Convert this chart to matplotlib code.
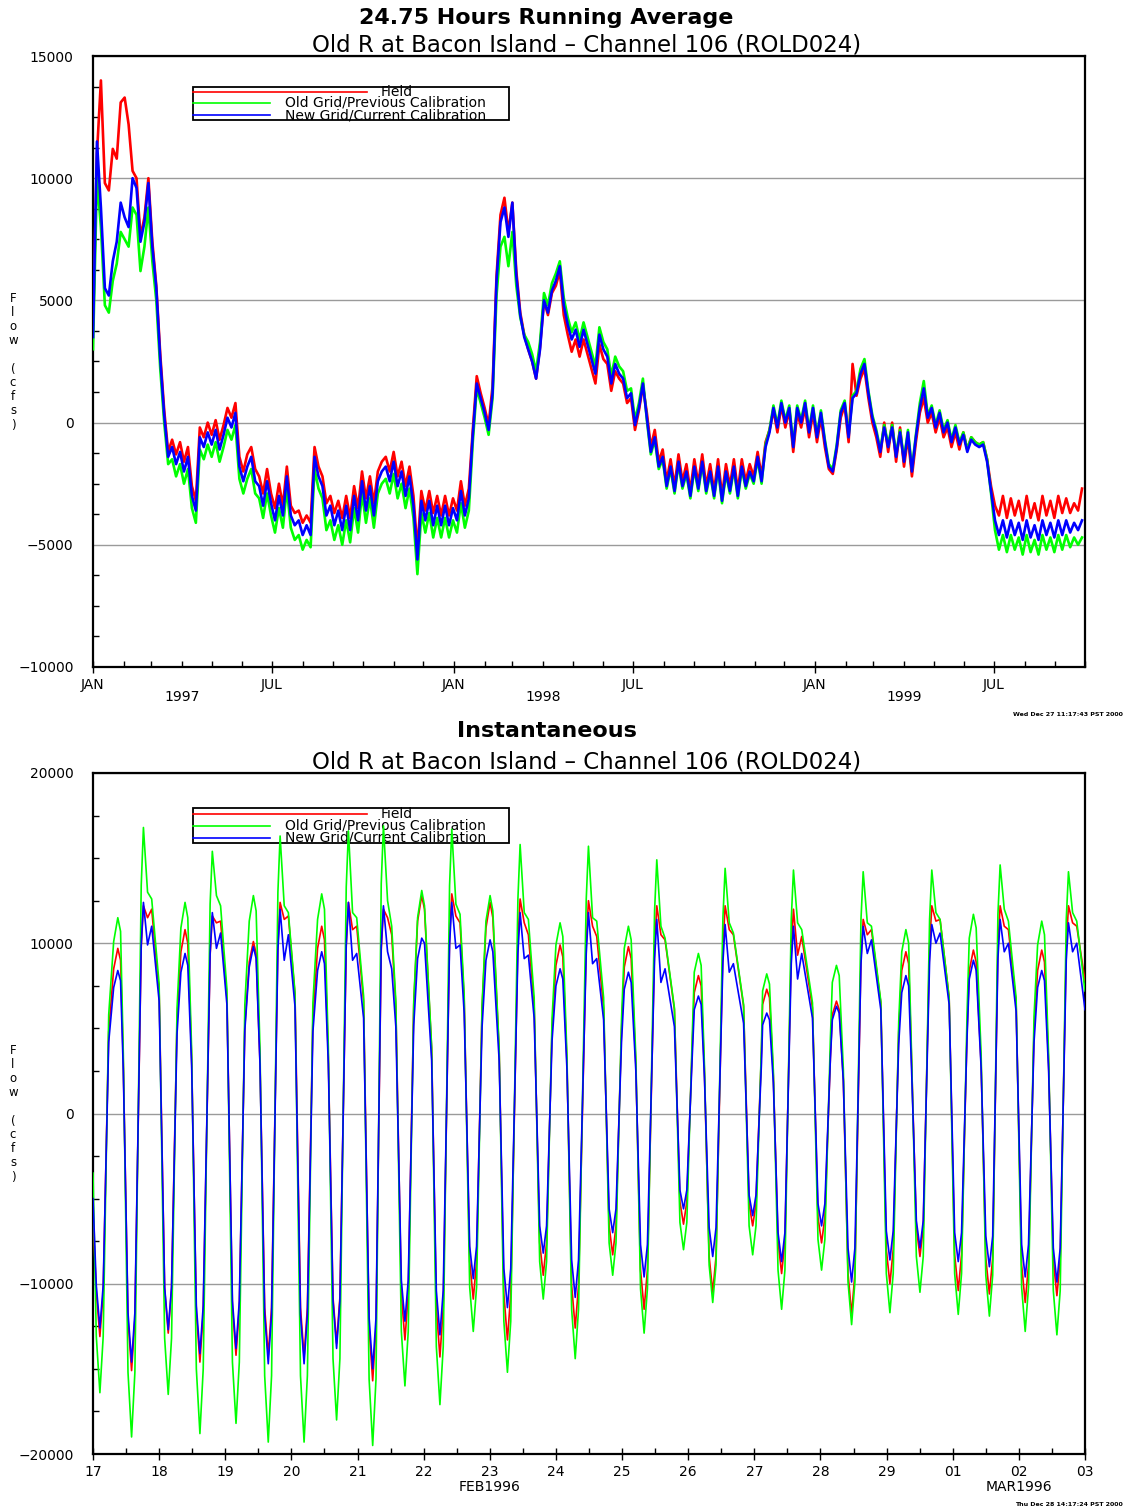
import numpy as np
import pandas as pd
import matplotlib
matplotlib.use("Agg")
import matplotlib.pyplot as plt
import matplotlib.dates as mdates
from matplotlib.ticker import MultipleLocator, FuncFormatter
from matplotlib.patches import Rectangle
from matplotlib.lines import Line2D
from matplotlib.transforms import blended_transform_factory

plt.rcParams["font.family"] = ["DejaVu Sans"]

# ---- 24.75 h running average: one value every 4 days from 1 Jan 1997, in 100 cfs ----
avg_start = "1997-01-01"
avg_step = "4D"
avg_field = [40, 110, 140, 98, 95, 112, 108, 131, 133, 122,
             103, 100, 76, 84, 100, 74, 56, 28, 5, -12,
             -7, -13, -8, -16, -10, -26, -32, -2, -6, 0,
             -5, 1, -7, -1, 6, 2, 8, -14, -20, -13,
             -10, -19, -22, -29, -19, -29, -35, -25, -34, -18,
             -34, -37, -36, -41, -38, -41, -10, -18, -22, -33,
             -30, -37, -32, -39, -30, -39, -26, -35, -20, -31,
             -22, -33, -20, -16, -14, -20, -12, -22, -16, -26,
             -18, -30, -52, -28, -36, -28, -37, -30, -38, -30,
             -38, -31, -36, -24, -34, -27, -3, 19, 12, 6,
             -1, 15, 60, 85, 92, 78, 90, 62, 45, 36,
             30, 25, 18, 31, 50, 44, 53, 56, 62, 44,
             36, 29, 34, 27, 34, 28, 22, 16, 32, 26,
             24, 13, 21, 18, 16, 8, 10, -3, 5, 15,
             4, -10, -3, -16, -11, -24, -15, -26, -13, -24,
             -17, -28, -15, -25, -13, -26, -17, -28, -15, -30,
             -17, -26, -15, -28, -15, -24, -17, -22, -12, -22,
             -8, -3, 5, -4, 7, -2, 5, -12, 4, -2,
             6, -6, 4, -8, 2, -10, -19, -21, -11, 2,
             7, -8, 24, 11, 18, 22, 10, 0, -6, -14,
             0, -12, 0, -16, -2, -18, -6, -22, -8, 4,
             10, 0, 4, -4, 2, -6, -2, -10, -4, -11,
             -4, -11, -6, -8, -9, -8, -15, -26, -34, -38,
             -30, -39, -31, -38, -32, -40, -30, -39, -33, -40,
             -30, -38, -32, -39, -30, -37, -31, -37, -33, -36, -27]
avg_old = [30, 100, 80, 48, 45, 58, 65, 78, 75, 72,
           88, 85, 62, 72, 88, 66, 50, 22, 0, -17,
           -15, -22, -17, -25, -19, -35, -41, -11, -15, -9,
           -14, -8, -16, -10, -3, -7, -1, -23, -29, -23,
           -19, -29, -31, -39, -29, -38, -45, -35, -43, -27,
           -43, -48, -46, -52, -48, -51, -19, -27, -31, -44,
           -40, -48, -42, -50, -40, -49, -35, -45, -29, -41,
           -31, -43, -29, -25, -23, -29, -21, -31, -25, -35,
           -27, -39, -62, -37, -45, -37, -47, -39, -47, -39,
           -47, -40, -45, -33, -43, -36, -8, 14, 8, 2,
           -5, 10, 52, 72, 76, 64, 78, 56, 43, 36,
           33, 28, 21, 33, 53, 48, 57, 61, 66, 51,
           43, 37, 41, 34, 41, 35, 29, 23, 39, 33,
           30, 19, 27, 23, 21, 13, 14, 1, 8, 18,
           1, -13, -7, -19, -15, -27, -19, -29, -17, -27,
           -21, -31, -19, -28, -17, -29, -21, -31, -19, -33,
           -21, -29, -19, -31, -19, -27, -21, -25, -15, -25,
           -9, -3, 7, -1, 9, 1, 7, -9, 7, 1,
           9, -3, 7, -5, 5, -7, -17, -19, -9, 5,
           9, -5, 11, 13, 22, 26, 13, 3, -3, -11,
           -1, -9, -1, -13, -3, -15, -3, -19, -5, 8,
           17, 3, 7, -1, 5, -3, 1, -7, -1, -8,
           -4, -11, -6, -8, -9, -8, -15, -29, -44, -52,
           -46, -53, -46, -52, -47, -54, -46, -53, -48, -54,
           -46, -52, -47, -53, -46, -52, -46, -51, -47, -50, -47]
avg_new = [35, 115, 88, 55, 52, 66, 74, 90, 84, 80,
           100, 96, 74, 82, 98, 72, 55, 26, 3, -14,
           -10, -17, -12, -20, -14, -30, -36, -6, -10, -4,
           -9, -3, -11, -5, 2, -2, 4, -18, -24, -18,
           -14, -24, -26, -34, -24, -33, -40, -30, -38, -22,
           -38, -42, -40, -46, -42, -46, -14, -22, -26, -38,
           -34, -42, -36, -44, -34, -44, -30, -40, -24, -36,
           -26, -38, -24, -20, -18, -24, -16, -26, -20, -30,
           -22, -34, -56, -32, -40, -32, -42, -34, -42, -34,
           -42, -35, -40, -28, -38, -31, -5, 16, 10, 4,
           -3, 12, 58, 82, 88, 76, 90, 60, 44, 35,
           30, 25, 18, 30, 50, 45, 54, 58, 64, 48,
           40, 34, 38, 31, 38, 32, 26, 20, 36, 30,
           27, 16, 24, 20, 18, 10, 12, -1, 6, 16,
           2, -12, -6, -18, -14, -26, -18, -28, -16, -26,
           -20, -30, -18, -27, -16, -28, -20, -30, -18, -32,
           -20, -28, -18, -30, -18, -26, -20, -24, -14, -24,
           -10, -4, 6, -2, 8, 0, 6, -10, 6, 0,
           8, -4, 6, -6, 4, -8, -18, -20, -10, 4,
           8, -6, 10, 12, 20, 24, 12, 2, -4, -12,
           -2, -10, -2, -14, -4, -16, -4, -20, -6, 6,
           14, 2, 6, -2, 4, -4, 0, -8, -2, -9,
           -5, -12, -7, -9, -10, -9, -16, -28, -40, -46,
           -40, -47, -40, -46, -41, -48, -40, -47, -42, -48,
           -40, -46, -41, -47, -40, -46, -40, -45, -41, -44, -40]

# ---- instantaneous: hours after 17 Feb 1996 00:00, in 100 cfs ----
inst_hours = [0.0, 1.2,
              2.5, 3.7, 5.7, 7.5, 9.0, 10.0, 11.0, 12.7,
              14.0, 15.2, 17.5, 18.3, 19.8, 21.3, 24.0, 26.0,
              27.3, 28.5, 30.5, 31.9, 33.4, 34.4, 35.8, 37.5,
              38.8, 40.0, 42.5, 43.3, 44.8, 46.3, 48.6, 50.6,
              51.9, 53.1, 55.1, 56.7, 58.2, 59.2, 60.6, 62.3,
              63.6, 64.8, 67.1, 67.9, 69.4, 70.9, 73.3, 75.3,
              76.6, 77.8, 79.8, 81.5, 83.0, 84.0, 85.4, 87.1,
              88.4, 89.6, 91.9, 92.7, 94.2, 95.7, 98.2, 100.2,
              101.5, 102.7, 104.6, 105.4, 106.9, 108.4, 109.9, 111.9,
              113.2, 114.4, 116.4, 117.8, 119.3, 120.3, 122.9, 124.6,
              125.9, 127.1, 129.4, 130.2, 131.7, 133.2, 134.7, 136.7,
              138.0, 139.2, 141.2, 142.6, 144.1, 145.1, 147.4, 149.1,
              150.4, 151.6, 154.2, 155.0, 156.5, 158.0, 160.1, 162.1,
              163.4, 164.6, 166.6, 168.0, 169.5, 170.5, 172.0, 173.7,
              175.0, 176.2, 179.0, 179.8, 181.3, 182.8, 185.3, 187.3,
              188.6, 189.8, 191.8, 192.8, 194.3, 195.3, 197.0, 198.7,
              200.0, 201.2, 203.8, 204.6, 206.1, 207.6, 211.0, 213.0,
              214.3, 215.5, 217.5, 218.2, 219.7, 220.7, 221.9, 223.6,
              224.9, 226.1, 228.6, 229.4, 230.9, 232.4, 236.1, 238.1,
              239.4, 240.6, 242.6, 243.0, 244.5, 245.5, 246.9, 248.6,
              249.9, 251.1, 253.4, 254.2, 255.7, 257.2, 261.1, 263.1,
              264.4, 265.6, 267.6, 268.3, 269.8, 270.8, 272.3, 274.0,
              275.3, 276.5, 278.7, 279.5, 281.0, 282.5, 285.9, 287.9,
              289.2, 290.4, 292.4, 293.5, 295.0, 296.0, 297.1, 298.8,
              300.1, 301.3, 303.6, 304.4, 305.9, 307.4, 310.7, 312.7,
              314.0, 315.2, 317.2, 318.0, 319.5, 320.5, 322.3, 324.0,
              325.3, 326.5, 328.4, 329.2, 330.7, 332.2, 335.0, 337.0,
              338.3, 339.5, 341.5, 342.8, 344.3, 345.3, 346.8, 348.5,
              349.8, 351.0, 353.2, 354.0, 355.5, 357.0, 360.0]
inst_field = [-60, -105,
              -131, -105, 48, 85, 97, 90, 29, -121,
              -151, -121, 98, 122, 115, 120, 72, -103,
              -129, -103, 54, 95, 108, 100, 32, -117,
              -146, -117, 93, 116, 112, 113, 68, -114,
              -142, -114, 51, 89, 101, 94, 30, -114,
              -142, -114, 99, 124, 114, 116, 70, -114,
              -143, -114, 55, 97, 110, 102, 33, -108,
              -135, -108, 99, 124, 108, 110, 66, -126,
              -157, -126, 96, 120, 115, 105, 63, -106,
              -133, -106, 64, 113, 128, 120, 38, -114,
              -143, -114, 103, 129, 116, 112, 67, -87,
              -109, -87, 62, 109, 124, 115, 37, -106,
              -133, -106, 101, 126, 112, 105, 63, -76,
              -95, -76, 50, 87, 99, 92, 30, -101,
              -126, -101, 100, 125, 110, 104, 62, -66,
              -83, -66, 49, 86, 98, 91, 29, -92,
              -115, -92, 98, 122, 105, 102, 61, -52,
              -65, -52, 41, 71, 81, 75, 24, -84,
              -105, -84, 98, 122, 108, 105, 63, -53,
              -66, -53, 37, 64, 73, 68, 22, -75,
              -94, -75, 96, 120, 93, 104, 62, -61,
              -76, -61, 33, 58, 66, 61, 20, -94,
              -118, -94, 91, 114, 105, 108, 65, -80,
              -100, -80, 48, 84, 95, 88, 29, -67,
              -84, -67, 98, 122, 113, 114, 68, -83,
              -104, -83, 48, 84, 96, 89, 29, -85,
              -106, -85, 98, 122, 110, 108, 65, -89,
              -111, -89, 48, 84, 96, 89, 29, -86,
              -107, -86, 98, 122, 112, 110, 78]
inst_old = [-35, -131,
            -164, -131, 58, 101, 115, 107, 35, -152,
            -190, -152, 134, 168, 130, 126, 76, -132,
            -165, -132, 62, 109, 124, 115, 37, -150,
            -188, -150, 123, 154, 128, 122, 73, -146,
            -182, -146, 64, 113, 128, 119, 38, -154,
            -193, -154, 130, 163, 122, 118, 71, -154,
            -193, -154, 65, 114, 129, 120, 39, -144,
            -180, -144, 133, 166, 118, 115, 69, -156,
            -195, -156, 135, 169, 125, 110, 66, -128,
            -160, -128, 66, 115, 131, 122, 39, -137,
            -171, -137, 134, 167, 123, 117, 70, -102,
            -128, -102, 64, 113, 128, 119, 38, -122,
            -152, -122, 126, 158, 118, 114, 68, -87,
            -109, -87, 56, 99, 112, 104, 34, -115,
            -144, -115, 126, 157, 115, 113, 68, -76,
            -95, -76, 55, 97, 110, 102, 33, -103,
            -129, -103, 119, 149, 110, 103, 62, -64,
            -80, -64, 47, 83, 94, 87, 28, -89,
            -111, -89, 115, 144, 112, 106, 64, -66,
            -83, -66, 41, 72, 82, 76, 25, -92,
            -115, -92, 114, 143, 112, 108, 65, -74,
            -92, -74, 44, 77, 87, 81, 26, -99,
            -124, -99, 114, 142, 112, 110, 66, -94,
            -117, -94, 54, 95, 108, 100, 32, -84,
            -105, -84, 114, 143, 118, 114, 68, -94,
            -118, -94, 59, 103, 117, 109, 35, -95,
            -119, -95, 117, 146, 120, 113, 68, -102,
            -128, -102, 57, 99, 113, 105, 34, -104,
            -130, -104, 114, 142, 118, 113, 72]
inst_new = [-50, -101,
            -126, -101, 42, 74, 84, 78, 25, -117,
            -146, -117, 99, 124, 99, 110, 66, -102,
            -127, -102, 47, 83, 94, 87, 28, -113,
            -141, -113, 94, 118, 97, 106, 64, -110,
            -138, -110, 49, 86, 98, 91, 29, -118,
            -147, -118, 96, 120, 90, 105, 63, -118,
            -147, -118, 48, 84, 95, 88, 29, -110,
            -138, -110, 99, 124, 90, 94, 56, -120,
            -150, -120, 98, 122, 95, 85, 51, -98,
            -122, -98, 52, 91, 103, 100, 31, -104,
            -130, -104, 99, 124, 97, 99, 59, -78,
            -97, -78, 51, 90, 102, 95, 31, -91,
            -114, -91, 94, 118, 91, 93, 56, -66,
            -82, -66, 43, 75, 85, 79, 26, -86,
            -108, -86, 94, 118, 88, 91, 55, -56,
            -70, -56, 42, 73, 83, 77, 25, -77,
            -96, -77, 91, 114, 77, 85, 51, -45,
            -56, -45, 35, 61, 69, 64, 21, -67,
            -84, -67, 89, 111, 83, 88, 53, -48,
            -60, -48, 30, 52, 59, 55, 18, -70,
            -87, -70, 88, 110, 79, 94, 56, -53,
            -66, -53, 32, 55, 63, 59, 19, -79,
            -99, -79, 88, 110, 94, 102, 61, -69,
            -86, -69, 41, 71, 81, 75, 24, -63,
            -79, -63, 89, 111, 100, 106, 64, -70,
            -87, -70, 45, 79, 90, 84, 27, -72,
            -90, -72, 91, 114, 95, 100, 60, -77,
            -96, -77, 42, 74, 84, 78, 25, -79,
            -99, -79, 90, 112, 95, 100, 61]

series_names = ["Field", "Old Grid/Previous Calibration", "New Grid/Current Calibration"]
series_colors = ["#ff0000", "#00ff00", "#0000ff"]
subtitle = "Old R at Bacon Island \u2013 Channel 106 (ROLD024)"

assert len(avg_field) == len(avg_old) == len(avg_new)
assert len(inst_hours) == len(inst_field) == len(inst_old) == len(inst_new)

avg_t = pd.date_range(avg_start, periods=len(avg_new), freq=avg_step)
inst_t = pd.Timestamp("1996-02-17") + pd.to_timedelta(inst_hours, unit="h")

W, H = 1125, 1510
fig = plt.figure(figsize=(W / 100, H / 100), dpi=100)

def px_axes(l, t, r, b):
    return fig.add_axes([l / W, 1 - b / H, (r - l) / W, (b - t) / H])

def frame(ax, lo, hi, major, minor):
    ax.set_ylim(lo, hi)
    ax.yaxis.set_major_locator(MultipleLocator(major))
    ax.yaxis.set_minor_locator(MultipleLocator(minor))
    ax.grid(axis="y", which="major", color="#9a9a9a", lw=1.0)
    ax.set_axisbelow(True)
    ax.tick_params(axis="y", which="both", direction="in", labelsize=10, pad=14)
    ax.tick_params(axis="y", which="major", length=0)
    ax.tick_params(axis="y", which="minor", length=4, width=1)
    ax.tick_params(axis="x", which="major", direction="inout", length=8, width=1, labelsize=10, pad=4)
    ax.tick_params(axis="x", which="minor", direction="in", length=4, width=1)
    for s in ax.spines.values():
        s.set_linewidth(1.6)

def legend_box(ax, y0, y1, ys):
    ax.add_patch(Rectangle((0.1008, y0), 0.3186, y1 - y0, transform=ax.transAxes,
                           fill=False, ec="black", lw=1.3, zorder=1))
    ends = [0.2762, 0.1784, 0.1784]
    for name, col, y, xe in zip(series_names, series_colors, ys, ends):
        ax.add_line(Line2D([0.1008, xe], [y, y], transform=ax.transAxes, color=col, lw=1.2, zorder=1))
    ax.text(0.3065, ys[0], series_names[0], transform=ax.transAxes, ha="center", va="center", fontsize=10, zorder=1)
    for name, y in zip(series_names[1:], ys[1:]):
        ax.text(0.1935, y, name, transform=ax.transAxes, ha="left", va="center", fontsize=10, zorder=1)

def flow_label(ycenter):
    fig.text(13 / W, 1 - ycenter / H, "F\nl\no\nw\n\n(\nc\nf\ns\n)", ha="center", va="center",
             fontsize=8.5, linespacing=1.1)

# ---------------- top panel ----------------
ax1 = px_axes(93, 56, 1085, 667)
for vals, col in zip([avg_field, avg_old, avg_new], series_colors):
    ax1.plot(avg_t, np.array(vals) * 100, color=col, lw=1.9, zorder=3)
ax1.set_xlim(pd.Timestamp("1997-01-01"), pd.Timestamp("1999-10-01"))
frame(ax1, -10000, 15000, 5000, 1250)
ax1.xaxis.set_major_locator(mdates.MonthLocator(bymonth=[1, 7]))
ax1.xaxis.set_minor_locator(mdates.MonthLocator())
ax1.xaxis.set_major_formatter(FuncFormatter(lambda x, p: mdates.num2date(x).strftime("%b").upper()))
tr1 = blended_transform_factory(ax1.transData, ax1.transAxes)
for yr in ["1997", "1998", "1999"]:
    ax1.text(pd.Timestamp(yr + "-04-01"), -0.049, yr, transform=tr1, ha="center", va="center", fontsize=10)
legend_box(ax1, 0.8953, 0.9493, [0.9411, 0.9231, 0.9034])

fig.text(0.4858, 1 - 18 / H, "24.75 Hours Running Average", ha="center", va="center", fontsize=16, weight="bold")
fig.text(0.5218, 1 - 45 / H, subtitle, ha="center", va="center", fontsize=16.5)
flow_label(362)
fig.text(0.998, 1 - 715 / H, "Wed Dec 27 11:17:43 PST 2000", ha="right", va="center", fontsize=4.5, weight="bold")

# ---------------- bottom panel ----------------
ax2 = px_axes(93, 773, 1085, 1454)
for vals, col in zip([inst_field, inst_old, inst_new], series_colors):
    ax2.plot(inst_t, np.array(vals) * 100, color=col, lw=1.2, zorder=3)
ax2.set_xlim(pd.Timestamp("1996-02-17"), pd.Timestamp("1996-03-03"))
frame(ax2, -20000, 20000, 10000, 2500)
ax2.xaxis.set_major_locator(mdates.DayLocator())
ax2.xaxis.set_minor_locator(mdates.HourLocator(byhour=[12]))
ax2.xaxis.set_major_formatter(mdates.DateFormatter("%d"))
tr2 = blended_transform_factory(ax2.transData, ax2.transAxes)
ax2.text(pd.Timestamp("1996-02-23"), -0.0485, "FEB1996", transform=tr2, ha="center", va="center", fontsize=10)
ax2.text(pd.Timestamp("1996-03-02"), -0.0485, "MAR1996", transform=tr2, ha="center", va="center", fontsize=10)
legend_box(ax2, 0.8972, 0.9486, [0.9398, 0.9222, 0.9046])

fig.text(0.4858, 1 - 731 / H, "Instantaneous", ha="center", va="center", fontsize=16, weight="bold")
fig.text(0.5218, 1 - 762 / H, subtitle, ha="center", va="center", fontsize=16.5)
flow_label(1114)
fig.text(0.998, 1 - 1505 / H, "Thu Dec 28 14:17:24 PST 2000", ha="right", va="center", fontsize=4.5, weight="bold")

fig.savefig("out.png", dpi=100, facecolor="white")
